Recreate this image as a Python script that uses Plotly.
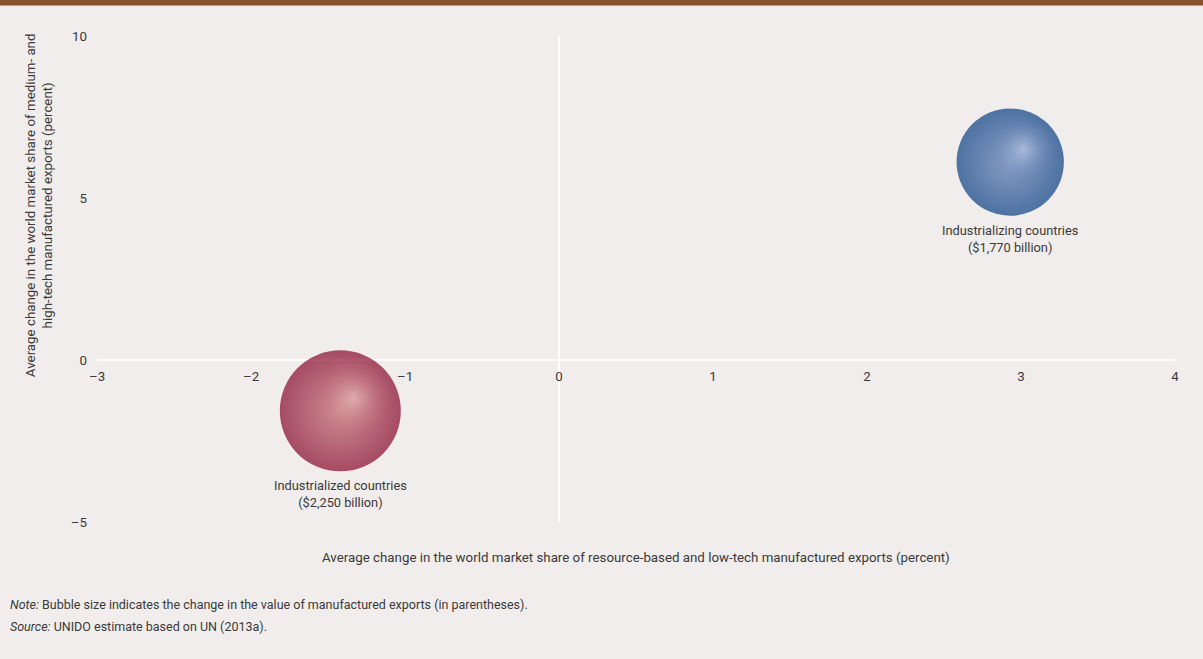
import math
import plotly.graph_objects as go

# ---- data ----
groups = ["Industrialized countries", "Industrializing countries"]
value_labels = ["($2,250 billion)", "($1,770 billion)"]
x_vals = [-1.42, 2.93]          # avg change, resource-based & low-tech share (%)
y_vals = [-1.57, 6.11]          # avg change, medium- & high-tech share (%)
export_change = [2250, 1770]    # change in value of manufactured exports ($ billion)
edge_colors = ["#850628", "#073d82"]
mid_colors = ["#c0636d", "#5a7bb4"]
mid_clear = ["rgba(192,99,109,0)", "rgba(90,123,180,0)"]
center_colors = ["#eac4c3", "#c4cfe7"]

x_ticks = [-3, -2, -1, 0, 1, 2, 3, 4]
x_ticktext = ["\u20133", "\u20132", "\u20131", "0", "1", "2", "3", "4"]
y_ticks = [-5, 0, 5, 10]
y_ticktext = ["\u20135", "0", "5", "10"]

FONT = "Roboto, Arial, sans-serif"
BG = "#f1edec"
TXT = "#3a3a3a"
X_RANGE = [-3, 4]
Y_RANGE = [-5, 10]
SIZEREF = 2 * 2250 / 121.0 ** 2
HL_FRAC = 0.42

fig = go.Figure()
# base spheres
for i in range(len(groups)):
    fig.add_trace(go.Scatter(
        x=[x_vals[i]], y=[y_vals[i]],
        mode="markers",
        cliponaxis=False,
        marker=dict(
            size=[export_change[i]],
            sizemode="area",
            sizeref=SIZEREF,
            color=edge_colors[i],
            gradient=dict(type="radial", color=mid_colors[i]),
            line=dict(width=0),
        ),
        showlegend=False,
        hoverinfo="skip",
    ))
# highlight layer (same data, drawn on an overlaying axis pair nudged up-right)
for i in range(len(groups)):
    fig.add_trace(go.Scatter(
        x=[x_vals[i]], y=[y_vals[i]],
        xaxis="x2", yaxis="y2",
        mode="markers",
        cliponaxis=False,
        marker=dict(
            size=[export_change[i] * HL_FRAC],
            sizemode="area",
            sizeref=SIZEREF,
            color=mid_clear[i],
            gradient=dict(type="radial", color=center_colors[i]),
            line=dict(width=0),
        ),
        showlegend=False,
        hoverinfo="skip",
    ))

annotations = []
for i in range(len(groups)):
    radius_px = 0.5 * math.sqrt(2 * export_change[i] / SIZEREF)
    annotations.append(dict(
        text=groups[i] + "<br>" + value_labels[i],
        x=x_vals[i], y=y_vals[i], xref="x", yref="y",
        yshift=-(radius_px + 5), xanchor="center", yanchor="top",
        showarrow=False, align="center",
        font=dict(family=FONT, size=12.8, color=TXT),
    ))

dx = 0.085
dy = 0.40
annotations += [
    dict(text="Average change in the world market share of resource-based and low-tech manufactured exports (percent)",
         xref="paper", yref="paper", x=0.5, y=-35 / 486, showarrow=False,
         font=dict(family=FONT, size=13.3, color=TXT), xanchor="center", yanchor="middle"),
    dict(text="Average change in the world market share of medium- and<br>high-tech manufactured exports (percent)",
         xref="paper", yref="y", x=-58 / 1078, y=4.78, textangle=-90, showarrow=False,
         font=dict(family=FONT, size=13.3, color=TXT), xanchor="center", yanchor="middle"),
    dict(text="<i>Note:</i> Bubble size indicates the change in the value of manufactured exports (in parentheses).",
         xref="paper", yref="paper", x=-89 / 1078, y=-82 / 486, showarrow=False, align="left",
         font=dict(family=FONT, size=12.5, color=TXT), xanchor="left", yanchor="middle"),
    dict(text="<i>Source:</i> UNIDO estimate based on UN (2013a).",
         xref="paper", yref="paper", x=-89 / 1078, y=-104 / 486, showarrow=False, align="left",
         font=dict(family=FONT, size=12.5, color=TXT), xanchor="left", yanchor="middle"),
]

fig.update_layout(
    width=1203, height=659,
    paper_bgcolor=BG, plot_bgcolor=BG,
    margin=dict(l=97, r=28, t=36, b=137),
    font=dict(family=FONT, size=13.3, color=TXT),
    xaxis=dict(
        range=X_RANGE, tickvals=x_ticks, ticktext=x_ticktext,
        showgrid=False, zeroline=True, zerolinecolor="white", zerolinewidth=2,
        showline=False, ticks="", anchor="free", position=1/3,
        ticklabelstandoff=7,
        tickfont=dict(family=FONT, size=13.3, color=TXT),
    ),
    yaxis=dict(
        range=Y_RANGE, tickvals=y_ticks, ticktext=y_ticktext,
        showgrid=False, zeroline=True, zerolinecolor="white", zerolinewidth=2,
        showline=False, ticks="", ticklabelstandoff=9,
        tickfont=dict(family=FONT, size=13.3, color=TXT),
    ),
    xaxis2=dict(range=[X_RANGE[0] - dx, X_RANGE[1] - dx], overlaying="x",
                visible=False, showgrid=False, zeroline=False),
    yaxis2=dict(range=[Y_RANGE[0] - dy, Y_RANGE[1] - dy], overlaying="y",
                visible=False, showgrid=False, zeroline=False),
    shapes=[dict(type="rect", xref="paper", yref="paper", x0=-0.1, x1=1.1,
                 y0=1 + 30.5 / 486, y1=1.2, fillcolor="#8c4f2d", line=dict(width=0),
                 layer="above")],
    annotations=annotations,
)

fig.write_html("out.html", config={"displayModeBar": False},
               post_script="document.body.style.margin='0';document.body.style.overflow='hidden';")
